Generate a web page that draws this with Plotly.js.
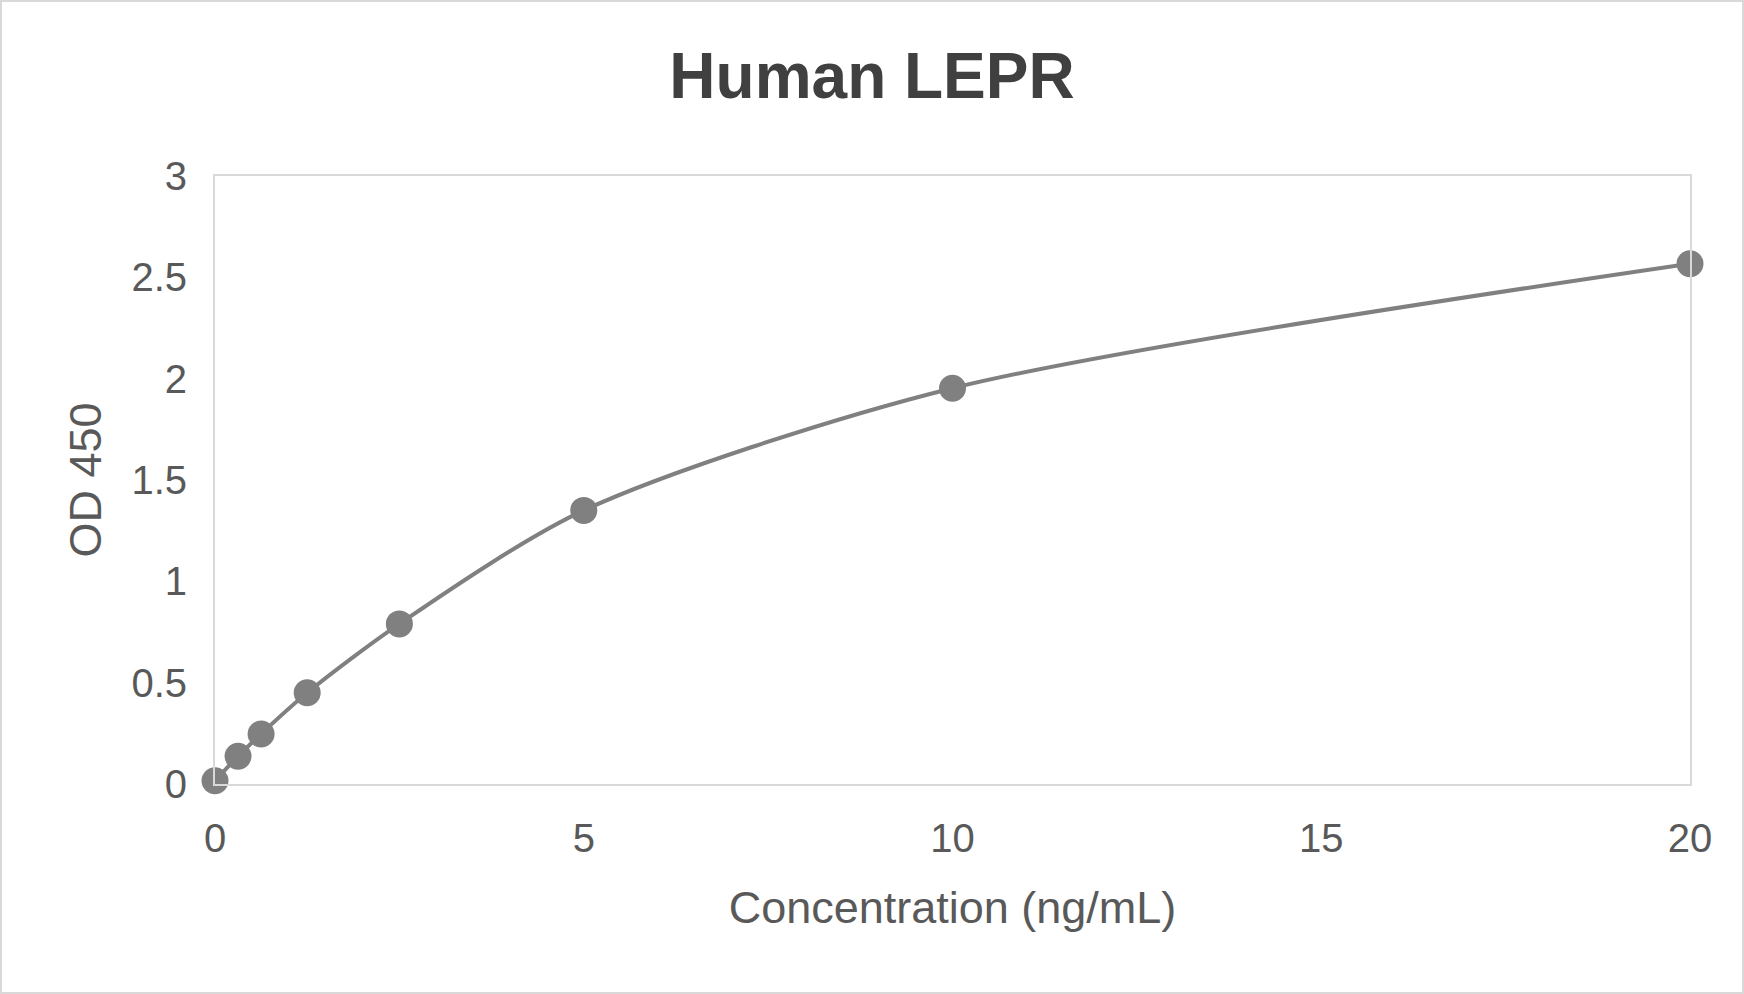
<!DOCTYPE html>
<html>
<head>
<meta charset="utf-8">
<script src="https://cdn.plot.ly/plotly-3.0.1.min.js"></script>
<style>
  body { margin: 0; background: #fff; }
  #chart { width: 1744px; height: 994px; }
  #frame { position: absolute; left: 0; top: 0; width: 1744px; height: 994px;
           box-sizing: border-box; border: 2px solid #d9d9d9; pointer-events: none; }
</style>
</head>
<body>
<div id="chart"></div>
<div id="frame"></div>
<script>
// standard curve readings
const concentration = [0, 0.3125, 0.625, 1.25, 2.5, 5, 10, 20];
const od450 = [0.016, 0.137, 0.247, 0.45, 0.79, 1.35, 1.953, 2.567];
const xTicks = [0, 5, 10, 15, 20];
const yTicks = [0, 0.5, 1, 1.5, 2, 2.5, 3];

const grey = "#808080";
const font = "Liberation Sans, Arial, sans-serif";

let trace = {
  x: concentration,
  y: od450,
  type: "scatter",
  mode: "lines+markers",
  line: { color: grey, width: 4, shape: "spline", smoothing: 0.8 },
  marker: { color: grey, size: 27 },
  cliponaxis: false,
  hoverinfo: "x+y",
};

let axisBase = {
  showgrid: false,
  zeroline: false,
  showline: true,
  mirror: true,
  linecolor: "#d9d9d9",
  linewidth: 2,
  ticks: "",
  tickfont: { family: font, size: 40, color: "#595959" },
  fixedrange: true,
};

let layout = {
  width: 1744,
  height: 994,
  autosize: false,
  margin: { l: 215, r: 54, t: 176, b: 210 },
  paper_bgcolor: "#ffffff",
  plot_bgcolor: "#ffffff",
  showlegend: false,
  title: {
    text: "<b>Human LEPR</b>",
    font: { family: font, size: 64, color: "#404040" },
    x: 0.5,
    xanchor: "center",
    y: 1 - 76 / 994,
    yanchor: "middle",
  },
  xaxis: Object.assign({}, axisBase, {
    range: [0, 20],
    tickvals: xTicks,
    ticklabelstandoff: 18,
    title: {
      text: "Concentration (ng/mL)",
      font: { family: font, size: 45, color: "#595959" },
      standoff: 32,
    },
  }),
  yaxis: Object.assign({}, axisBase, {
    range: [0, 3],
    tickvals: yTicks,
    ticklabelstandoff: 18,
    title: {
      text: "OD 450",
      font: { family: font, size: 45, color: "#595959" },
      standoff: 16,
    },
  }),
};

Plotly.newPlot("chart", [trace], layout, { displayModeBar: false, staticPlot: true });
</script>
</body>
</html>
